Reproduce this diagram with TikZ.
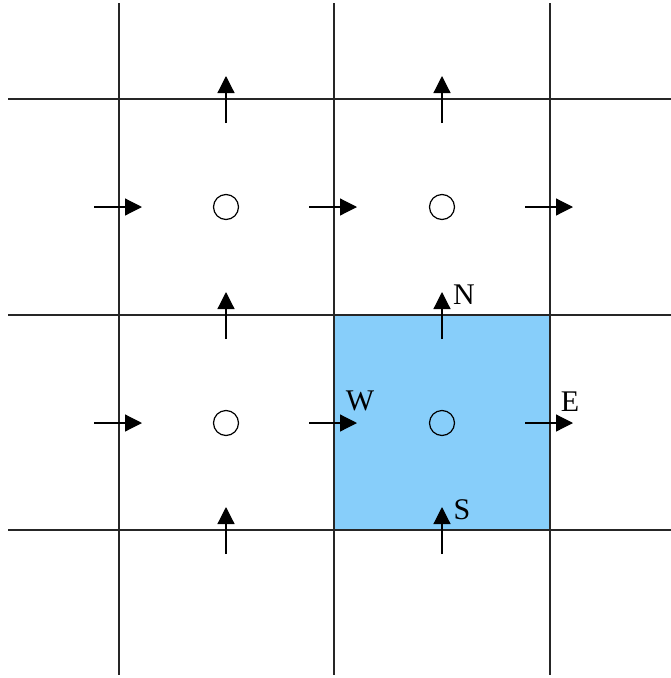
\documentclass[tikz,border=0pt]{standalone}
\usepackage{fontspec}
\setmainfont{Liberation Serif}
\usetikzlibrary{arrows.meta}
\begin{document}
\begin{tikzpicture}[x=1pt,y=-1pt,
  gridline/.style={line width=1.2pt,black!85},
  flux/.style={line width=1.2pt,-{Triangle[length=17pt,width=17pt]}},
  cellc/.style={circle,draw,line width=1.2pt,minimum size=25pt,inner sep=0pt},
  lbl/.style={font=\fontsize{30}{30}\selectfont,inner sep=0pt}]
\useasboundingbox (0,0) rectangle (671,678);
\fill[fill={rgb,255:red,135;green,206;blue,250}] (334,315) rectangle (550,530);
\foreach \x in {119,334,550} \draw[gridline] (\x,3) -- (\x,675);
\foreach \y in {99,315,530} \draw[gridline] (8,\y) -- (671,\y);
\node[cellc] (c11) at (226,207) {};
\node[cellc] (c12) at (442,207) {};
\node[cellc] (c21) at (226,423) {};
\node[cellc] (c22) at (442,423) {};
% horizontal arrows
\foreach \x in {119,334,550}{
  \foreach \y in {207,423}{
    \coordinate (hs) at (\x-25,\y);
    \coordinate (he) at (\x+23,\y);
    \draw[flux] (hs) -- (he);
  }}
% vertical arrows
\foreach \x in {226,442}{
  \foreach \y in {99,315,530}{
    \coordinate (vs) at (\x,\y+24);
    \coordinate (ve) at (\x,\y-23);
    \draw[flux] (vs) -- (ve);
  }}
\node[lbl] (N) at (464,295) {N};
\node[lbl] (W) at (360,401) {W};
\node[lbl] (E) at (570,402) {E};
\node[lbl] (S) at (462,510) {S};
\end{tikzpicture}
\end{document}
